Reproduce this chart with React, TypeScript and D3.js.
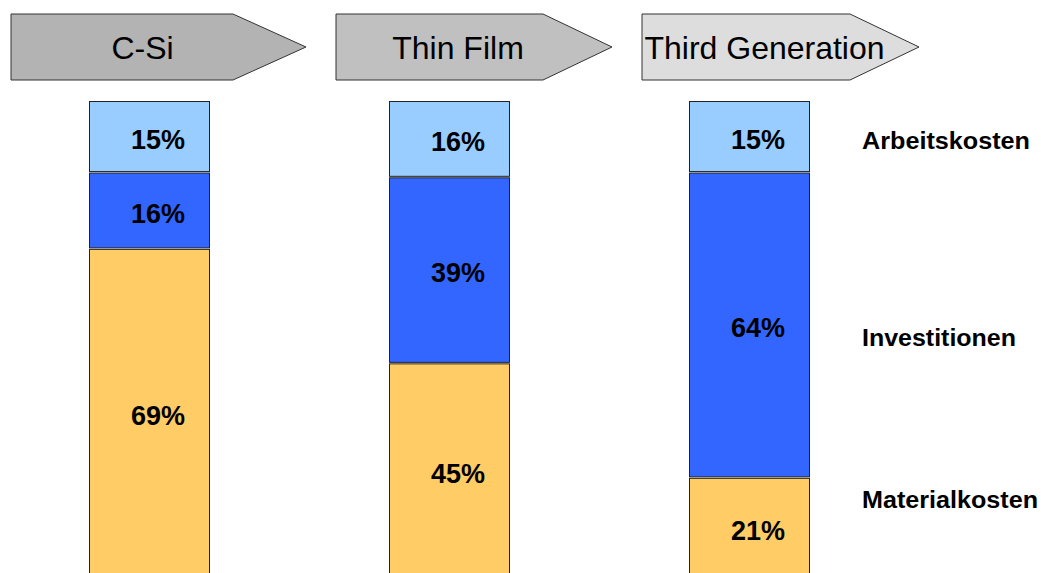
import React from "react";
import * as d3 from "d3";

const categories = ["C-Si", "Thin Film", "Third Generation"];
const series = ["Arbeitskosten", "Investitionen", "Materialkosten"];
const arbeitskosten = [15, 16, 15];
const investitionen = [16, 39, 64];
const materialkosten = [69, 45, 21];
const headerFills = ["#b3b3b3", "#c0c0c0", "#dddddd"];
const seriesColors = ["#99ccff", "#3366ff", "#ffcc66"];

export default function App() {
  const W = 1041, H = 573;
  const barW = 120;
  const y = d3.scaleLinear().domain([0, 100]).range([101, 578]);
  const rows = categories.map((c, i) => ({ cat: c, Arbeitskosten: arbeitskosten[i], Investitionen: investitionen[i], Materialkosten: materialkosten[i] }));
  const stack = d3.stack<any>().keys(series);
  const stacked = stack(rows);
  const headers = [
    { x0: 11, xr: 233, x1: 306 },
    { x0: 336, xr: 543, x1: 612 },
    { x0: 642, xr: 850, x1: 919 },
  ];
  const legendY = [141, 338, 500];
  const legendLen = [168, 154, 176];
  const barCenters = [150, 450, 750];
  return (
    <svg width={W} height={H} style={{ position: "absolute", left: 0, top: 0, fontFamily: "'Liberation Sans', Arial, sans-serif" }}>
      {headers.map((h, i) => (
        <g key={i}>
          <path d={`M${h.x0},14 L${h.xr},14 L${h.x1},47 L${h.xr},80 L${h.x0},80 Z`} fill={headerFills[i]} stroke="#333" strokeWidth={1} />
          <text x={(h.x0 + h.x1) / 2 - 16} y={48} fontSize={32} textAnchor="middle" dominantBaseline="central" fill="#000">{categories[i]}</text>
        </g>
      ))}
      {stacked.map((s, si) => (
        <g key={si}>
          {s.map((d, ci) => {
            const cx = barCenters[ci];
            const top = y(d[0]);
            const bot = y(d[1]);
            return (
              <g key={ci}>
                <rect x={cx - barW / 2 - 0.5} y={top + 0.5} width={barW} height={bot - top - 1.5} fill={seriesColors[si]} stroke="#222" strokeWidth={1} />
                <text x={cx + 8} y={(top + bot) / 2 + 3} fontSize={27} fontWeight="bold" textAnchor="middle" dominantBaseline="central" fill="#000">{`${d[1] - d[0]}%`}</text>
              </g>
            );
          })}
        </g>
      ))}
      {series.map((s, i) => (
        <text key={s} x={862} y={legendY[i]} fontSize={23} fontWeight="bold" dominantBaseline="central" fill="#000" textLength={legendLen[i]} lengthAdjust="spacingAndGlyphs">{s}</text>
      ))}
    </svg>
  );
}
